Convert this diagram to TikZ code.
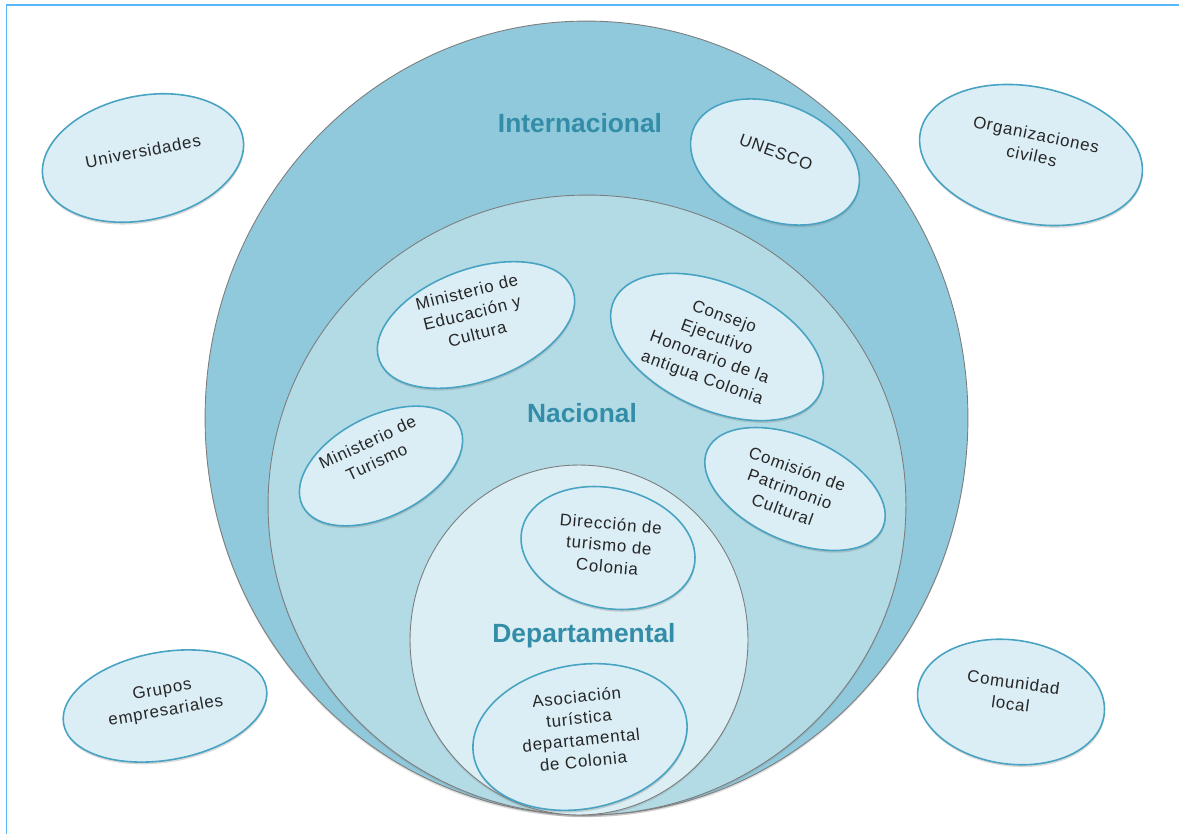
\documentclass[tikz,border=0pt]{standalone}
\usepackage{fontspec}
\setmainfont{Liberation Sans}
\newfontfamily\orgfont[LetterSpace=5]{Liberation Sans}
\usetikzlibrary{shapes.geometric,shadows}
\definecolor{intc}{RGB}{143,201,219}
\definecolor{nacc}{RGB}{178,219,230}
\definecolor{depc}{RGB}{218,238,244}
\definecolor{orgfill}{RGB}{220,238,245}
\definecolor{orgline}{RGB}{72,163,194}
\definecolor{levelc}{RGB}{52,141,168}
\definecolor{framec}{RGB}{90,182,250}
\definecolor{ringc}{RGB}{125,125,125}
\begin{document}
\begin{tikzpicture}[x=0.02cm,y=-0.02cm,
  ring/.style={draw=ringc,line width=0.5pt,drop shadow={shadow xshift=0pt,shadow yshift=-1.2pt,opacity=0.25}},
  org/.style={ellipse,draw=orgline,fill=orgfill,line width=0.9pt,inner sep=0pt,drop shadow={shadow xshift=0.3pt,shadow yshift=-1.3pt,opacity=0.3}},
  lbl/.style={align=center,font=\orgfont\fontsize{9.6}{12.3}\selectfont,text=black!85},
  levellbl/.style={font=\fontsize{15}{18}\selectfont\bfseries,text=levelc},
  framepath/.style={draw=framec,line width=1.1pt}]
\useasboundingbox (0,0) rectangle (1179,834);
\draw[framepath] (6.5,834) -- (6.5,5) -- (1179,5);
% level circles
\path[ring,fill=intc] (586.5,418) ellipse [x radius=7.63cm, y radius=7.94cm];
\path[ring,fill=nacc] (587,505) ellipse [x radius=6.38cm, y radius=6.2cm];
\path[ring,fill=depc] (579,640) ellipse [x radius=3.38cm, y radius=3.5cm];
% level labels
\node[levellbl] (int) at (580,123) {Internacional};
\node[levellbl] (nac) at (582,413) {Nacional};
\node[levellbl] (dep) at (584,636) {Departamental};
% outside actors
\node[org,minimum width=4.08cm,minimum height=2.48cm,rotate=12] (uni) at (143,158) {};
\node[lbl,rotate=11] (unit) at (143,151) {Universidades};
\node[org,minimum width=4.52cm,minimum height=2.72cm,rotate=-12] (orgciv) at (1031,155) {};
\node[lbl,rotate=-12] (orgcivt) at (1034,145) {Organizaciones\\civiles};
\node[org,minimum width=4.12cm,minimum height=2.16cm,rotate=10] (grupos) at (165,706) {};
\node[lbl,rotate=10] (grupost) at (164,701) {Grupos\\empresariales};
\node[org,minimum width=3.76cm,minimum height=2.48cm,rotate=-8] (comun) at (1011,702) {};
\node[lbl,rotate=-8] (comunt) at (1012,693) {Comunidad\\local};
% international
\node[org,minimum width=3.52cm,minimum height=2.32cm,rotate=-22] (unesco) at (775,162) {};
\node[lbl,rotate=-20] (unescot) at (776,152) {UNESCO};
% national
\node[org,minimum width=4.12cm,minimum height=2.24cm,rotate=20] (minedu) at (476,325) {};
\node[lbl,rotate=14] (minedut) at (472,313) {Ministerio de\\Educación y\\Cultura};
\node[org,minimum width=4.52cm,minimum height=2.52cm,rotate=-24] (consejo) at (717,347) {};
\node[lbl,rotate=-20] (consejot) at (713,348) {Consejo\\Ejecutivo\\Honorario de la\\antigua Colonia};
\node[org,minimum width=3.52cm,minimum height=2.0cm,rotate=27] (mintur) at (381,466) {};
\node[lbl,rotate=25] (mintur) at (372,452) {Ministerio de\\Turismo};
\node[org,minimum width=3.84cm,minimum height=2.08cm,rotate=-24] (comision) at (795,489) {};
\node[lbl,rotate=-20] (comisiont) at (790,489) {Comisión de\\Patrimonio\\Cultural};
% departmental
\node[org,minimum width=3.52cm,minimum height=2.4cm,rotate=-12] (direc) at (608,548) {};
\node[lbl,rotate=-5] (direct) at (609,545) {Dirección de\\turismo de\\Colonia};
\node[org,minimum width=4.32cm,minimum height=2.88cm,rotate=10] (asoc) at (580,737) {};
\node[lbl,rotate=6] (asoct) at (580,729) {Asociación\\turística\\departamental\\de Colonia};
\end{tikzpicture}
\end{document}
